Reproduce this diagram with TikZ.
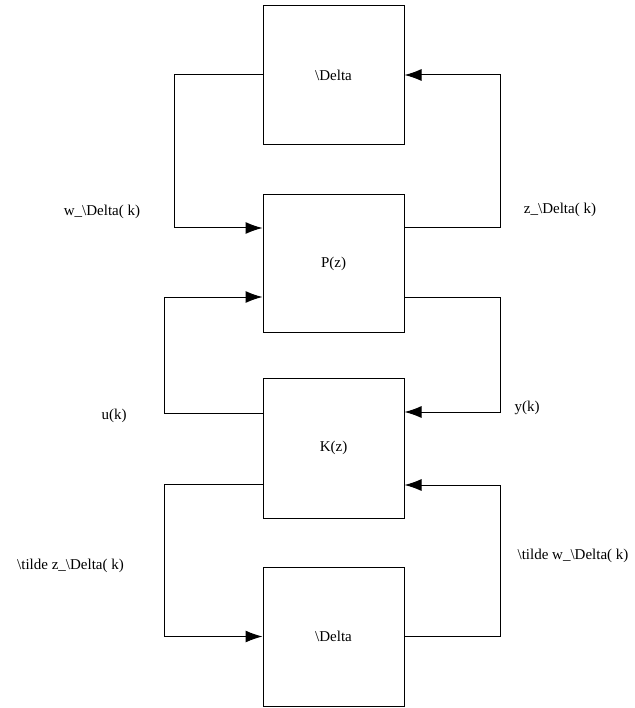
\documentclass[tikz,border=0pt]{standalone}
\usepackage{fontspec}
\setmainfont{Liberation Serif}
\usetikzlibrary{arrows.meta}
\usetikzlibrary{positioning}

\tikzset{
  lbl/.style={font=\fontsize{15}{18}\selectfont, inner sep=0pt},
  blk/.style={draw, lbl, line width=1pt, minimum width=141pt, minimum height=139pt},
  sig/.style={line width=1pt, -{Latex[length=17pt,width=12pt]}}
}

\begin{document}
\begin{tikzpicture}[x=1pt,y=-1pt]
\useasboundingbox (0,0) rectangle (634,708);

% blocks
\node[blk] (deltaup) at (333.5,75) {\textbackslash Delta};
\node[blk, minimum height=137pt] (plant) at (333.5,263.5) {P(z)};
\node[blk, minimum height=140pt] (ctrl) at (333.5,448) {K(z)};
\node[blk] (deltadn) at (333.5,636.5) {\textbackslash Delta};

% signals
\draw[sig] (deltaup.west) -- ++(-88,0) |- ([yshift=35.5pt]plant.west);
\draw[sig] ([yshift=35.5pt]plant.east) -- ++(96,0) |- (deltaup.east);
\draw[sig] ([yshift=-33.5pt]plant.east) -- ++(96,0) |- ([yshift=36pt]ctrl.east);
\draw[sig] ([yshift=35pt]ctrl.west) -- ++(-98,0) |- ([yshift=-33.5pt]plant.west);
\draw[sig] ([yshift=-36pt]ctrl.west) -- ++(-98,0) |- (deltadn.west);
\draw[sig] (deltadn.east) -- ++(96,0) |- ([yshift=-37pt]ctrl.east);

% labels
\node[lbl] (wdelta) at (102,212) {w\_\textbackslash Delta( k)};
\node[lbl] (zdelta) at (560,210) {z\_\textbackslash Delta( k)};
\node[lbl] (uk) at (114,416) {u(k)};
\node[lbl] (yk) at (527,408) {y(k)};
\node[lbl, anchor=east] (zdtilde) at (124,566) {\textbackslash tilde z\_\textbackslash Delta( k)};
\node[lbl] (wdtilde) at (573,556) {\textbackslash tilde w\_\textbackslash Delta( k)};
\end{tikzpicture}
\end{document}
